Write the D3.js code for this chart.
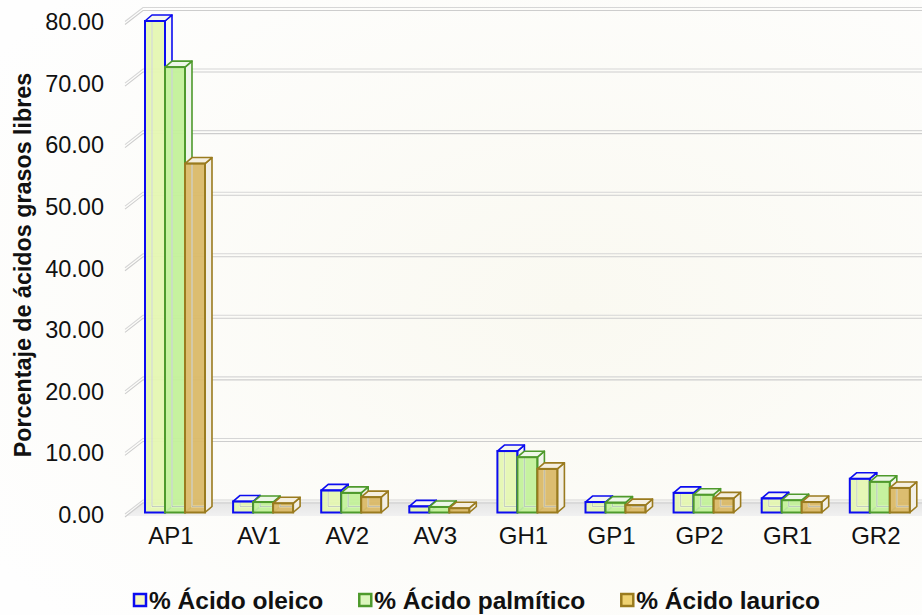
<!DOCTYPE html>
<html>
<head>
<meta charset="utf-8">
<script src="https://cdn.jsdelivr.net/npm/d3@7"></script>
<style>
  html, body { margin: 0; padding: 0; background: #ffffff; }
  svg { display: block; font-family: "Liberation Sans", Arial, sans-serif; }
</style>
</head>
<body>
<svg id="chart" width="922" height="615"></svg>
<script>
// Muestras analizadas
const categories = ["AP1", "AV1", "AV2", "AV3", "GH1", "GP1", "GP2", "GR1", "GR2"];

// Series: porcentaje de cada ácido graso libre
const seriesNames = ["% Ácido oleico", "% Ácido palmítico", "% Ácido laurico"];
const oleico    = [80.0, 1.8, 3.6, 1.0, 10.0, 1.7, 3.2, 2.3, 5.5];
const palmitico = [72.5, 1.7, 3.2, 0.9,  9.0, 1.6, 2.9, 2.0, 5.0];
const laurico   = [56.8, 1.5, 2.5, 0.7,  7.1, 1.2, 2.3, 1.7, 4.0];
const seriesValues = [oleico, palmitico, laurico];

const yTicks = [0, 10, 20, 30, 40, 50, 60, 70, 80];
const yTitle = "Porcentaje de ácidos grasos libres";

// Estilos de cada serie
const styles = [
  { stroke: "#0c0cf0", front: "#e5f7b2", top: "#f6f7f0", side: "#f4f6ee", legendFill: "#f6f6c4" },
  { stroke: "#4e9a2c", front: "#c3f19a", top: "#eef7e8", side: "#f0f5ec", legendFill: "#dcf6bd" },
  { stroke: "#9a7b1f", front: "#dab968", top: "#f5efe0", side: "#f2efe6", legendFill: "#efd272" }
];

const svg = d3.select("#chart");
const W = 922, H = 615;

// Fondo con un tono cálido muy suave
const defs = svg.append("defs");
const bg = defs.append("radialGradient").attr("id", "bg")
  .attr("cx", "0.62").attr("cy", "0.5").attr("r", "0.75");
bg.append("stop").attr("offset", "0").attr("stop-color", "#faf9f1");
bg.append("stop").attr("offset", "1").attr("stop-color", "#fefefe");
svg.append("rect").attr("width", W).attr("height", H).attr("fill", "url(#bg)");

const floorGrad = defs.append("linearGradient").attr("id", "floor")
  .attr("x1", 0).attr("y1", 0).attr("x2", 0).attr("y2", 1);
floorGrad.append("stop").attr("offset", "0").attr("stop-color", "#e4e4e4");
floorGrad.append("stop").attr("offset", "1").attr("stop-color", "#f1f1f1");

// Geometría de la escena 3D
const depthX = 18, depthY = 14;       // profundidad de las paredes
const barDX = 7, barDY = 6;           // profundidad de cada barra
const frontLeft = 125, rightEdge = W;

// Escalas
const yLabel = d3.scaleLinear().domain([0, 80]).range([515, 22]);   // plano frontal (etiquetas)
const yBack  = d3.scaleLinear().domain([0, 80]).range([501.5, 9]);  // pared del fondo
const yBar   = d3.scaleLinear().domain([0, 80]).range([512.5, 21]); // caras frontales de las barras

const x = d3.scaleBand().domain(categories)
  .range([130.95, 923.85]).paddingInner(0.319).paddingOuter(0.1595);
const xs = d3.scaleBand().domain(d3.range(seriesNames.length)).range([0, x.bandwidth()]);

// Suelo
svg.append("polygon")
  .attr("points", [
    [frontLeft, yLabel(0) + 1], [frontLeft + depthX, yBack(0)],
    [rightEdge, yBack(0)], [rightEdge, yLabel(0) + 1]
  ].map(p => p.join(",")).join(" "))
  .attr("fill", "url(#floor)");

// Líneas de cuadrícula dobles con su tramo en perspectiva
const grid = svg.append("g");
yTicks.forEach(v => {
  [0, 3].forEach((off, i) => {
    const yb = yBack(v) + off - 1.5;
    grid.append("path")
      .attr("d", `M${frontLeft},${yb + depthY}L${frontLeft + depthX},${yb}L${rightEdge},${yb}`)
      .attr("fill", "none")
      .attr("stroke", i === 0 ? "#d6d6d6" : "#cdcdcd")
      .attr("stroke-width", 1.1);
  });
});

// Etiquetas del eje Y
const yAxis = d3.axisLeft(yLabel).tickValues(yTicks).tickFormat(d3.format(".2f")).tickSize(0).tickPadding(0);
const yAxisG = svg.append("g").attr("transform", "translate(104,0)").call(yAxis);
yAxisG.select(".domain").remove();
yAxisG.selectAll("text").attr("font-size", 23.5).attr("fill", "#111").attr("font-family", "Liberation Sans, Arial, sans-serif");

svg.append("text")
  .attr("transform", `translate(23,265) rotate(-90)`)
  .attr("text-anchor", "middle").attr("dominant-baseline", "central")
  .attr("font-size", 23.3).attr("font-weight", "bold").attr("fill", "#111")
  .text(yTitle);

// Etiquetas del eje X
const xAxis = d3.axisBottom(x).tickSize(0).tickPadding(0);
const xAxisG = svg.append("g").attr("transform", "translate(-4,527)").call(xAxis);
xAxisG.select(".domain").remove();
xAxisG.selectAll("text").attr("font-size", 24).attr("fill", "#111")
  .attr("dy", "0.71em").attr("font-family", "Liberation Sans, Arial, sans-serif");

// Barras 3D: se dibujan de izquierda a derecha para que cada una tape la cara lateral anterior
const bars = svg.append("g");
categories.forEach((cat, ci) => {
  seriesValues.forEach((vals, si) => {
    const st = styles[si];
    const x0 = x(cat) + xs(si), w = xs.bandwidth();
    const yt = yBar(vals[ci]), yb = yBar(0);
    const g = bars.append("g");
    // Cara frontal
    g.append("rect").attr("x", x0).attr("y", yt).attr("width", w).attr("height", yb - yt)
      .attr("fill", st.front).attr("fill-opacity", 0.95);
    // Aristas traseras vistas a través de la barra translúcida
    g.append("path")
      .attr("d", `M${x0 + barDX},${yt - barDY}L${x0 + barDX},${yb - barDY}L${x0 + w + barDX},${yb - barDY}`)
      .attr("fill", "none").attr("stroke", "#ffffff").attr("stroke-opacity", 0.45).attr("stroke-width", 2);
    g.append("path")
      .attr("d", `M${x0 + barDX},${yt - barDY}L${x0 + barDX},${yb - barDY}L${x0 + w + barDX},${yb - barDY}`)
      .attr("fill", "none").attr("stroke", "#8f9aa6").attr("stroke-opacity", 0.45).attr("stroke-width", 1);
    // Cara lateral
    g.append("polygon")
      .attr("points", [[x0 + w, yt], [x0 + w + barDX, yt - barDY], [x0 + w + barDX, yb - barDY], [x0 + w, yb]]
        .map(p => p.join(",")).join(" "))
      .attr("fill", st.side).attr("stroke", st.stroke).attr("stroke-width", 1.6).attr("stroke-linejoin", "round");
    // Cara superior
    g.append("polygon")
      .attr("points", [[x0, yt], [x0 + barDX, yt - barDY], [x0 + w + barDX, yt - barDY], [x0 + w, yt]]
        .map(p => p.join(",")).join(" "))
      .attr("fill", st.top).attr("stroke", st.stroke).attr("stroke-width", 1.6).attr("stroke-linejoin", "round");
    // Contorno frontal
    g.append("rect").attr("x", x0).attr("y", yt).attr("width", w).attr("height", yb - yt)
      .attr("fill", "none").attr("stroke", st.stroke).attr("stroke-width", 2);
  });
});

// Leyenda
const legend = svg.append("g");
let lx = 133;
seriesNames.forEach((name, i) => {
  const st = styles[i];
  legend.append("rect").attr("x", lx + 1).attr("y", 594).attr("width", 12).attr("height", 12)
    .attr("fill", st.legendFill).attr("stroke", st.stroke).attr("stroke-width", 2.5);
  const t = legend.append("text").attr("x", lx + 16).attr("y", 609)
    .attr("font-size", 24.5).attr("font-weight", "bold").attr("fill", "#111").text(name);
  lx += 16 + t.node().getComputedTextLength() + 35;
});
</script>
</body>
</html>
